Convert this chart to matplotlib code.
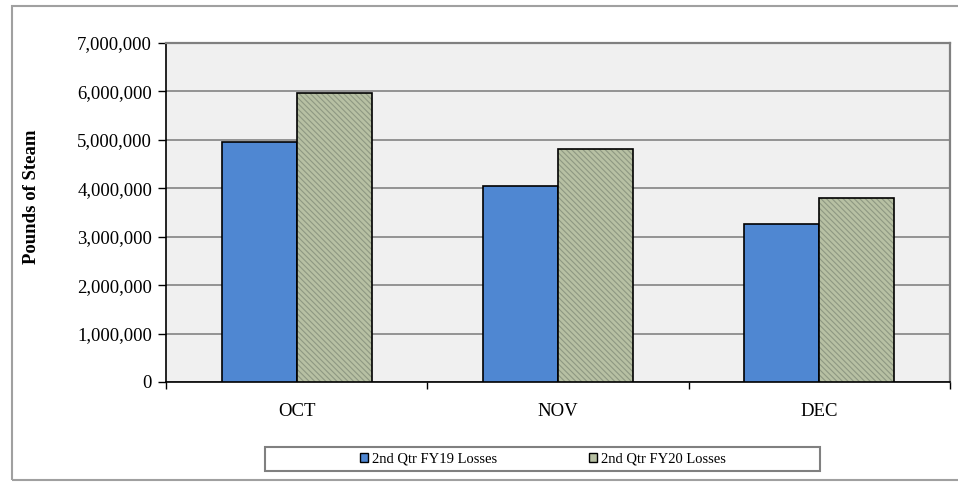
"""
Steam losses by month, 2nd quarter FY19 vs FY20 — grouped bar chart.
Saves out.png.
"""

import matplotlib.pyplot as plt
import numpy as np
from matplotlib.patches import Rectangle
from matplotlib.ticker import FuncFormatter, MultipleLocator


MONTHS = ["OCT", "NOV", "DEC"]
FY19_LOSSES = [4_960_000, 4_040_000, 3_270_000]
FY20_LOSSES = [5_970_000, 4_820_000, 3_790_000]
SERIES_LABELS = ["2nd Qtr FY19 Losses", "2nd Qtr FY20 Losses"]

BLUE = "#4f87d2"
SAGE = "#b7c0a3"
SAGE_HATCH = "#8e9882"


def main() -> None:
    plt.rcParams["font.family"] = ["Liberation Serif", "DejaVu Serif"]
    plt.rcParams["hatch.linewidth"] = 0.8

    fig = plt.figure(figsize=(9.58, 4.82), dpi=100)
    ax = fig.add_axes([166 / 958, 1 - 382 / 482, (950 - 166) / 958, (382 - 43) / 482])
    ax.set_facecolor("#f0f0f0")

    x = np.arange(len(MONTHS))
    width = 0.287

    ax.bar(x - width / 2, FY19_LOSSES, width, color=BLUE, edgecolor="black",
           linewidth=1.2, zorder=3)
    # sage bars: fill first, then a fine diagonal hatch, then the black outline
    ax.bar(x + width / 2, FY20_LOSSES, width, color=SAGE, linewidth=0, zorder=3)
    ax.bar(x + width / 2, FY20_LOSSES, width, fill=False, hatch="\\\\\\\\\\\\",
           edgecolor=SAGE_HATCH, linewidth=0, zorder=3.1)
    ax.bar(x + width / 2, FY20_LOSSES, width, fill=False, edgecolor="black",
           linewidth=1.2, zorder=3.2)

    ax.set_xlim(-0.5, len(MONTHS) - 0.5)
    ax.set_ylim(0, 7_000_000)
    ax.yaxis.set_major_locator(MultipleLocator(1_000_000))
    ax.yaxis.set_major_formatter(FuncFormatter(lambda v, _: f"{int(v):,}"))
    ax.grid(axis="y", color="#7a7a7a", linewidth=1.1, zorder=0)
    ax.set_axisbelow(True)

    ax.set_xticks(x)
    ax.set_xticklabels(MONTHS)
    ax.set_xticks(np.arange(-0.5, len(MONTHS)), minor=True)
    ax.tick_params(axis="x", which="major", length=0, pad=15, labelsize=13.5)
    ax.tick_params(axis="x", which="minor", length=5, width=1, color="black")
    ax.tick_params(axis="y", length=6, width=1, pad=4, labelsize=13.5)

    ax.set_ylabel("Pounds of Steam", fontsize=13.5, fontweight="bold")
    ax.yaxis.set_label_coords(-0.161, 0.546)

    for side in ("left", "bottom"):
        ax.spines[side].set_color("black")
        ax.spines[side].set_linewidth(1.2)
    for side in ("top", "right"):
        ax.spines[side].set_color("#808080")
        ax.spines[side].set_linewidth(1.6)

    # legend, framed by its own rectangle below the plot
    handles = [
        Rectangle((0, 0), 1, 1, facecolor=BLUE, edgecolor="black", linewidth=1),
        Rectangle((0, 0), 1, 1, facecolor=SAGE, edgecolor="black", linewidth=1),
    ]
    fig.legend(handles, SERIES_LABELS, loc="center", ncol=2,
               bbox_to_anchor=(543 / 958, 1 - 459 / 482), frameon=False,
               fontsize=10.5, handlelength=0.55, handleheight=0.55,
               handletextpad=0.25, columnspacing=6.3)
    fig.add_artist(Rectangle((265 / 958, 1 - 471 / 482), (820 - 265) / 958, 24 / 482,
                             transform=fig.transFigure, fill=False,
                             edgecolor="#808080", linewidth=1.5))

    # outer chart border
    fig.add_artist(Rectangle((12 / 958, 1 - 480 / 482), 1.0, (480 - 6) / 482,
                             transform=fig.transFigure, fill=False,
                             edgecolor="#a0a0a0", linewidth=1.5))

    fig.savefig("out.png", dpi=100)
    plt.close(fig)


if __name__ == "__main__":
    main()
